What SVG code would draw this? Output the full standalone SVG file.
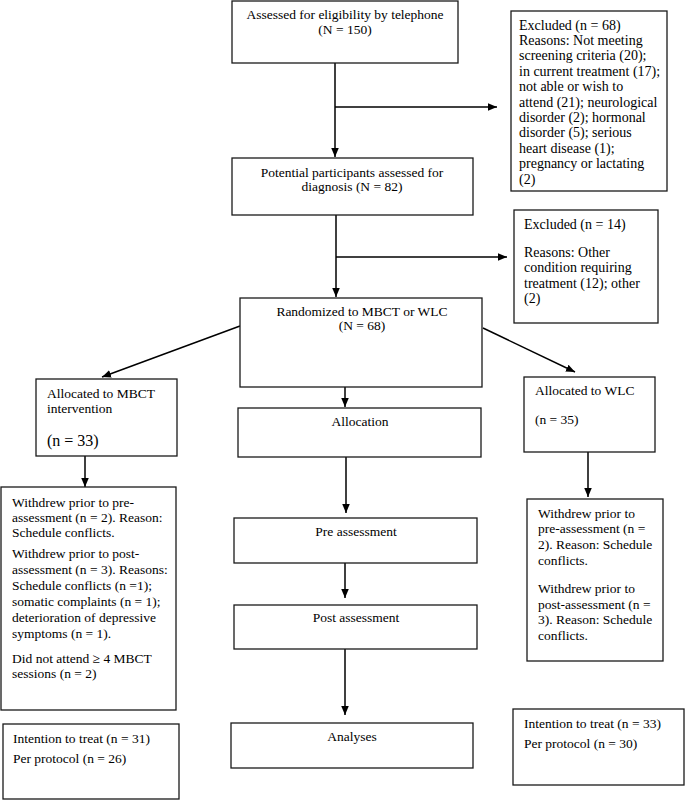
<svg xmlns="http://www.w3.org/2000/svg" width="685" height="802" viewBox="0 0 685 802">
<style>
  .box { fill: #ffffff; stroke: #1a1a1a; stroke-width: 1.3; }
  .t { font-family: "Liberation Serif", "Times New Roman", serif; font-size: 13.5px; fill: #000; }
  .c { text-anchor: middle; }
  .big { font-size: 16px; }
  .ex { font-size: 14px; }
  .conn line { stroke: #000; stroke-width: 1.5; marker-end: url(#arrow); }
</style>
<defs>
  <marker id="arrow" viewBox="0 0 10 10" refX="10" refY="5" markerWidth="9" markerHeight="9" markerUnits="userSpaceOnUse" orient="auto">
    <path d="M0,0.8 L10,5 L0,9.2 z" fill="#000"/>
  </marker>
</defs>
<rect width="685" height="802" fill="#ffffff"/>

<g class="conn" id="connectors">
  <line x1="335" y1="63" x2="335" y2="157"/>
  <line x1="335" y1="107" x2="497" y2="107"/>
  <line x1="336" y1="215" x2="336" y2="297"/>
  <line x1="336" y1="257" x2="507" y2="257"/>
  <line x1="240" y1="326" x2="102" y2="377"/>
  <line x1="483" y1="328" x2="575" y2="372"/>
  <line x1="345" y1="387" x2="345" y2="407"/>
  <line x1="346" y1="457" x2="346" y2="513"/>
  <line x1="345" y1="563" x2="345" y2="598"/>
  <line x1="345" y1="649" x2="345" y2="715"/>
  <line x1="85" y1="456" x2="85" y2="487"/>
  <line x1="588" y1="452" x2="588" y2="497"/>
</g>

<g id="assessed">
  <rect class="box" x="232" y="1" width="226" height="62"/>
  <text class="t c" x="345" y="19">Assessed for eligibility by telephone</text>
  <text class="t c" x="345" y="34">(N = 150)</text>
</g>

<g id="excluded68">
  <rect class="box" x="511" y="11" width="156" height="180"/>
  <text class="t ex" x="519" y="29.5">Excluded (n = 68)</text>
  <text class="t ex" x="519" y="44.9">Reasons: Not meeting</text>
  <text class="t ex" x="519" y="60.3">screening criteria (20);</text>
  <text class="t ex" x="519" y="75.7">in current treatment (17);</text>
  <text class="t ex" x="519" y="91.1">not able or wish to</text>
  <text class="t ex" x="519" y="106.5">attend (21); neurological</text>
  <text class="t ex" x="519" y="121.9">disorder (2); hormonal</text>
  <text class="t ex" x="519" y="137.3">disorder (5); serious</text>
  <text class="t ex" x="519" y="152.7">heart disease (1);</text>
  <text class="t ex" x="519" y="168.1">pregnancy or lactating</text>
  <text class="t ex" x="519" y="183.5">(2)</text>
</g>

<g id="potential">
  <rect class="box" x="232" y="158" width="241" height="57"/>
  <text class="t c" x="352" y="177">Potential participants assessed for</text>
  <text class="t c" x="352" y="191">diagnosis (N = 82)</text>
</g>

<g id="excluded14">
  <rect class="box" x="514" y="210" width="144" height="113"/>
  <text class="t ex" x="524" y="228.5">Excluded (n = 14)</text>
  <text class="t ex" x="524" y="256.5">Reasons: Other</text>
  <text class="t ex" x="524" y="272">condition requiring</text>
  <text class="t ex" x="524" y="287.5">treatment (12); other</text>
  <text class="t ex" x="524" y="303">(2)</text>
</g>

<g id="randomized">
  <rect class="box" x="240" y="298" width="242" height="89"/>
  <text class="t c" x="362" y="316">Randomized to MBCT or WLC</text>
  <text class="t c" x="362" y="330">(N = 68)</text>
</g>

<g id="alloc-mbct">
  <rect class="box" x="36" y="379" width="141" height="77"/>
  <text class="t" x="47" y="397.5">Allocated to MBCT</text>
  <text class="t" x="47" y="412.5">intervention</text>
  <text class="t big" x="47" y="446">(n = 33)</text>
</g>

<g id="allocation">
  <rect class="box" x="238" y="408" width="243" height="49"/>
  <text class="t c" x="360" y="426">Allocation</text>
</g>

<g id="alloc-wlc">
  <rect class="box" x="524" y="377" width="131" height="75"/>
  <text class="t" x="535" y="394.5">Allocated to WLC</text>
  <text class="t" x="535" y="423.5">(n = 35)</text>
</g>

<g id="withdrew-mbct">
  <rect class="box" x="1" y="487" width="175" height="223"/>
  <text class="t" x="12" y="506.5">Withdrew prior to pre-</text>
  <text class="t" x="12" y="521.5">assessment (n = 2). Reason:</text>
  <text class="t" x="12" y="536.5">Schedule conflicts.</text>
  <text class="t" x="12" y="557.5">Withdrew prior to post-</text>
  <text class="t" x="12" y="573.5">assessment (n = 3). Reasons:</text>
  <text class="t" x="12" y="589.5">Schedule conflicts (n =1);</text>
  <text class="t" x="12" y="605.5">somatic complaints (n = 1);</text>
  <text class="t" x="12" y="621.5">deterioration of depressive</text>
  <text class="t" x="12" y="637.5">symptoms (n = 1).</text>
  <text class="t" x="12" y="662.5">Did not attend ≥ 4 MBCT</text>
  <text class="t" x="12" y="677.5">sessions (n = 2)</text>
</g>

<g id="pre">
  <rect class="box" x="234" y="518" width="243" height="45"/>
  <text class="t c" x="356" y="536">Pre assessment</text>
</g>

<g id="post">
  <rect class="box" x="234" y="605" width="243" height="44"/>
  <text class="t c" x="356" y="622">Post assessment</text>
</g>

<g id="withdrew-wlc">
  <rect class="box" x="527" y="499" width="136" height="162"/>
  <text class="t" x="538" y="517.5">Withdrew prior to</text>
  <text class="t" x="538" y="532.5">pre-assessment (n =</text>
  <text class="t" x="538" y="548.5">2). Reason: Schedule</text>
  <text class="t" x="538" y="564.5">conflicts.</text>
  <text class="t" x="538" y="592.5">Withdrew prior to</text>
  <text class="t" x="538" y="608.5">post-assessment (n =</text>
  <text class="t" x="538" y="623.5">3). Reason: Schedule</text>
  <text class="t" x="538" y="639.5">conflicts.</text>
</g>

<g id="itt-mbct">
  <rect class="box" x="3" y="724" width="176" height="75"/>
  <text class="t" x="13" y="742.5">Intention to treat (n = 31)</text>
  <text class="t" x="13" y="762.5">Per protocol (n = 26)</text>
</g>

<g id="analyses">
  <rect class="box" x="231" y="723" width="242" height="45"/>
  <text class="t c" x="352" y="741">Analyses</text>
</g>

<g id="itt-wlc">
  <rect class="box" x="513" y="709" width="171" height="76"/>
  <text class="t" x="524" y="727.5">Intention to treat (n = 33)</text>
  <text class="t" x="524" y="747.5">Per protocol (n = 30)</text>
</g>
</svg>
